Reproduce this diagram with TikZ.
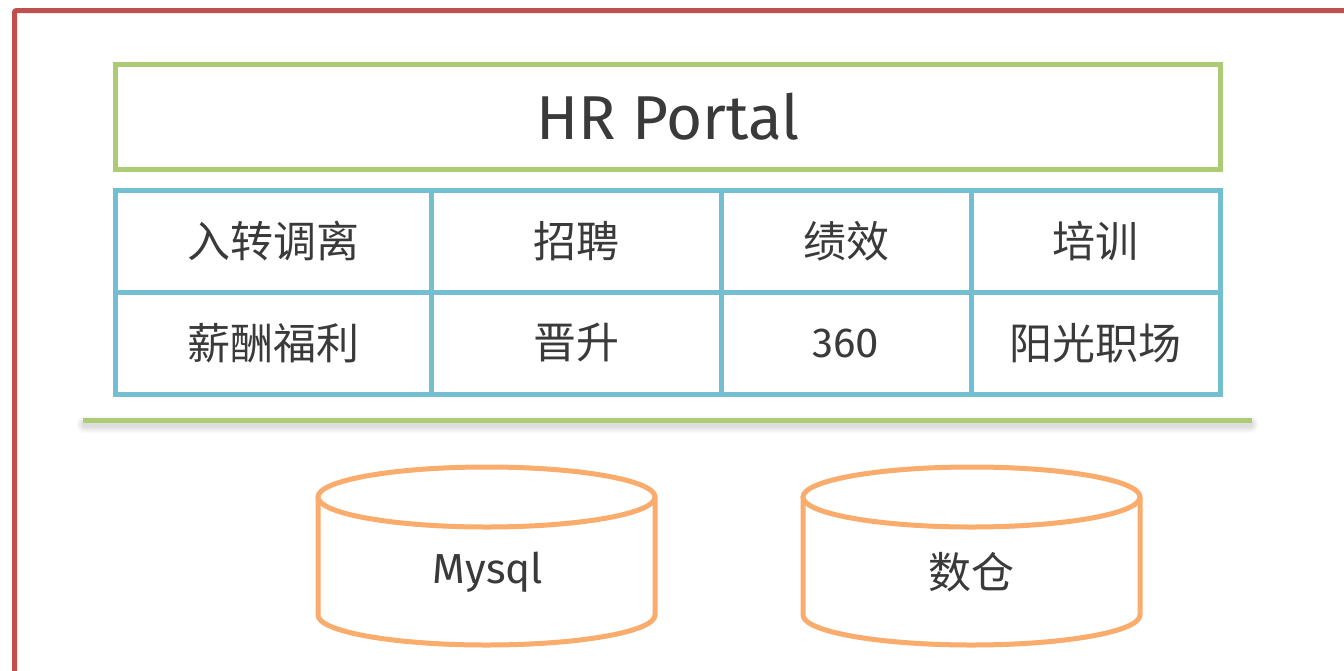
\documentclass[tikz,border=0pt]{standalone}
\usepackage{fontspec}
\setmainfont{Fira Sans}
\newfontfamily\cjk{Noto Sans CJK SC}
\definecolor{redb}{RGB}{192,80,77}
\definecolor{greenb}{RGB}{173,202,116}
\definecolor{blueb}{RGB}{116,190,210}
\definecolor{orangeb}{RGB}{250,172,108}
\definecolor{txt}{RGB}{58,58,58}
\begin{document}
\begin{tikzpicture}[x=1pt,y=-1pt,
  cell/.style={draw=blueb,line width=5pt,minimum height=102pt,inner sep=0pt,outer sep=0pt,text=txt,font=\cjk\fontsize{43}{50}\selectfont},
  lat/.style={text=txt,font=\fontsize{42}{50}\selectfont},
  cyl/.style={draw=orangeb,line width=5pt,fill=white},
  ]
\useasboundingbox (0,0) rectangle (1344,670);
\clip (0,0) rectangle (1344,670);
% outer red frame
\draw[redb,line width=5pt,rounded corners=2pt] (14.5,10.5) rectangle (1380,700);
% HR Portal box
\node[draw=greenb,line width=5pt,minimum width=1105pt,minimum height=104.5pt,inner sep=0pt,text=txt,font=\fontsize{62}{70}\selectfont] (portal) at (668,116.75) {HR Portal};
% table
\node[cell,minimum width=316pt] (c11) at (273,241) {入转调离};
\node[cell,minimum width=290pt] (c12) at (576,241) {招聘};
\node[cell,minimum width=250pt] (c13) at (846,241) {绩效};
\node[cell,minimum width=249pt] (c14) at (1095.5,241) {培训};
\node[cell,minimum width=316pt] (c21) at (273,343) {薪酬福利};
\node[cell,minimum width=290pt] (c22) at (576,343) {晋升};
\node[cell,minimum width=250pt,font=\fontsize{42}{50}\selectfont] (c23) at (846,343) {360};
\node[cell,minimum width=249pt] (c24) at (1095.5,343) {阳光职场};
% separator line with soft shadow
\foreach \o in {14,12,10,8,6,4,2}
  \draw[black,opacity=0.018,line width=3pt+\o pt,line cap=round] (85,424) -- (1250,424);
\coordinate (sepL) at (83,420);
\coordinate (sepR) at (1252,420);
\draw[greenb,line width=5pt] (sepL) -- (sepR);
% cylinders
\foreach \cx in {486.5,971.5}{
  \draw[cyl] (\cx-168.5,497) -- (\cx-168.5,615) arc[start angle=180,end angle=360,x radius=168.5,y radius=-30] -- (\cx+168.5,497);
  \draw[cyl] (\cx,497) ellipse[x radius=168.5,y radius=30];
}
\node[lat] (mysql) at (488,572) {Mysql};
\node[lat,font=\cjk\fontsize{43}{50}\selectfont] (dw) at (971,572) {数仓};
\end{tikzpicture}
\end{document}
